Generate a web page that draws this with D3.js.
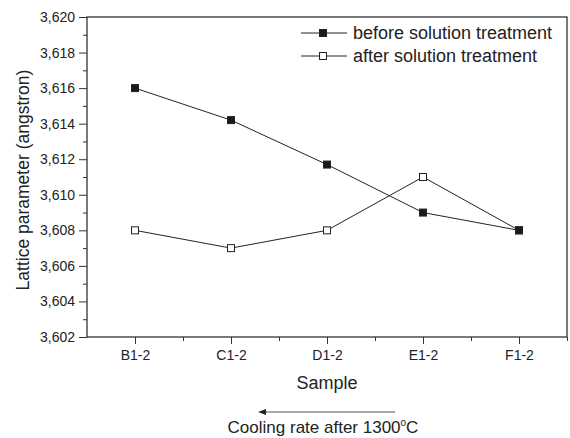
<!DOCTYPE html>
<html>
<head>
<meta charset="utf-8">
<title>Lattice parameter</title>
<style>
  body { margin: 0; background: #fff; }
  svg { font-family: "Liberation Sans", Arial, sans-serif; }
  .axis path, .axis line { stroke: #333; }
  .axis text { fill: #222; font-size: 14px; }
</style>
</head>
<body>
<script src="https://cdn.jsdelivr.net/npm/d3@7"></script>
<script>
// data
var samples = ["B1-2", "C1-2", "D1-2", "E1-2", "F1-2"];
var before = [3.6160, 3.6142, 3.6117, 3.6090, 3.6080];
var after = [3.6080, 3.6070, 3.6080, 3.6110, 3.6080];
var yTicks = [3.602, 3.604, 3.606, 3.608, 3.610, 3.612, 3.614, 3.616, 3.618, 3.620];

var width = 570, height = 438;
var pLeft = 87, pRight = 567, pTop = 17, pBottom = 337;

var svg = d3.select("body").append("svg")
    .attr("width", width)
    .attr("height", height);

// categories sit at 1..5, axis runs from 0.5 to 5.5
var x = d3.scaleLinear().domain([0.5, 5.5]).range([pLeft, pRight]);
var y = d3.scaleLinear().domain([3.602, 3.620]).range([pBottom, pTop]);

var comma = function(d) { return d3.format(".3f")(d).replace(".", ","); };

// frame
svg.append("rect")
    .attr("x", pLeft).attr("y", pTop)
    .attr("width", pRight - pLeft).attr("height", pBottom - pTop)
    .attr("fill", "none").attr("stroke", "#333").attr("stroke-width", 1.3);

// y axis, minor ticks first
svg.append("g").attr("class", "axis")
    .attr("transform", "translate(" + pLeft + ",0)")
    .call(d3.axisLeft(y).tickValues(d3.range(3.603, 3.620, 0.002)).tickSize(4).tickFormat(""))
    .call(function(g) { g.select(".domain").remove(); });
svg.append("g").attr("class", "axis")
    .attr("transform", "translate(" + pLeft + ",0)")
    .call(d3.axisLeft(y).tickValues(yTicks).tickSize(8).tickPadding(4).tickFormat(comma))
    .call(function(g) { g.select(".domain").remove(); });

// x axis
svg.append("g").attr("class", "axis")
    .attr("transform", "translate(0," + pBottom + ")")
    .call(d3.axisBottom(x).tickValues([1.5, 2.5, 3.5, 4.5, 5.5]).tickSize(4).tickFormat(""))
    .call(function(g) { g.select(".domain").remove(); });
svg.append("g").attr("class", "axis")
    .attr("transform", "translate(0," + pBottom + ")")
    .call(d3.axisBottom(x).tickValues([1, 2, 3, 4, 5]).tickSize(7).tickPadding(6)
        .tickFormat(function(d) { return samples[d - 1]; }))
    .call(function(g) { g.select(".domain").remove(); });

// lines + markers
var line = d3.line()
    .x(function(d, i) { return x(i + 1); })
    .y(function(d) { return y(d); });

function series(vals, fill) {
    svg.append("path").datum(vals)
        .attr("d", line)
        .attr("fill", "none").attr("stroke", "#222").attr("stroke-width", 1);
    svg.selectAll(null).data(vals).enter().append("rect")
        .attr("x", function(d, i) { return x(i + 1) - 3.5; })
        .attr("y", function(d) { return y(d) - 3.5; })
        .attr("width", 7).attr("height", 7)
        .attr("fill", fill).attr("stroke", "#222").attr("stroke-width", 1);
}
series(after, "#fff");
series(before, "#1a1a1a");

// legend
var legend = [["before solution treatment", "#1a1a1a"], ["after solution treatment", "#fff"]];
legend.forEach(function(l, i) {
    var ly = 33 + i * 23;
    svg.append("line").attr("x1", 301).attr("x2", 347).attr("y1", ly).attr("y2", ly)
        .attr("stroke", "#222").attr("stroke-width", 1);
    svg.append("rect").attr("x", 323 - 3.5).attr("y", ly - 3.5).attr("width", 7).attr("height", 7)
        .attr("fill", l[1]).attr("stroke", "#222");
    svg.append("text").attr("x", 353).attr("y", ly).attr("dy", "0.35em")
        .attr("font-size", 18).attr("fill", "#222").text(l[0]);
});

// axis titles
svg.append("text")
    .attr("transform", "translate(29,180) rotate(-90)")
    .attr("text-anchor", "middle").attr("font-size", 17.5).attr("fill", "#222")
    .text("Lattice parameter (angstron)");
svg.append("text")
    .attr("x", 327).attr("y", 383).attr("dy", "0.35em")
    .attr("text-anchor", "middle").attr("font-size", 18).attr("fill", "#222")
    .text("Sample");

// arrow
svg.append("line").attr("x1", 264).attr("x2", 395).attr("y1", 412).attr("y2", 412)
    .attr("stroke", "#555").attr("stroke-width", 1.2);
svg.append("path").attr("d", "M258,412 L266,409 L266,415 Z").attr("fill", "#222");

var t = svg.append("text")
    .attr("x", 323).attr("y", 433)
    .attr("text-anchor", "middle").attr("font-size", 17).attr("fill", "#222");
t.append("tspan").text("Cooling rate after 1300");
t.append("tspan").attr("font-size", 10).attr("dy", -7).text("o");
t.append("tspan").attr("dy", 7).text("C");
</script>
</body>
</html>
